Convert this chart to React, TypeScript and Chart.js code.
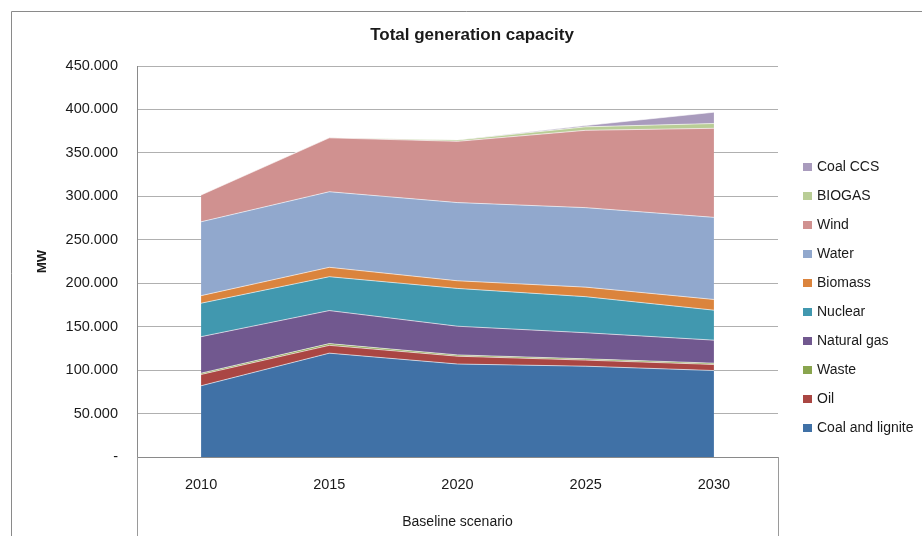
import React, { useEffect, useRef } from "react";
import { Chart, registerables } from "chart.js";

Chart.register(...registerables);

const categories = ["2010", "2015", "2020", "2025", "2030"];
const coalLignite = [82000, 119500, 107000, 104500, 99500];
const oil = [13000, 9000, 9000, 7000, 7000];
const waste = [1500, 2000, 1500, 1500, 1500];
const naturalGas = [42000, 38000, 33000, 30000, 26500];
const nuclear = [38500, 39000, 43500, 41500, 34500];
const biomass = [8700, 10800, 8800, 11000, 12300];
const water = [85000, 87000, 90000, 91500, 94500];
const wind = [30800, 62000, 70500, 89000, 102500];
const biogas = [0, 0, 1500, 4000, 5500];
const coalCCS = [0, 0, 0, 1500, 13000];

const seriesNames = ["Coal and lignite", "Oil", "Waste", "Natural gas", "Nuclear", "Biomass", "Water", "Wind", "BIOGAS", "Coal CCS"];
const seriesColors = ["#4071a6", "#aa4643", "#89a54e", "#71588f", "#4198af", "#db843d", "#91a8cd", "#d09190", "#b9cd96", "#a99bbd"];
const seriesValues = [coalLignite, oil, waste, naturalGas, nuclear, biomass, water, wind, biogas, coalCCS];

const chartTitle = "Total generation capacity";
const yAxisTitle = "MW";
const groupLabel = "Baseline scenario";

const FONT = "'Liberation Sans', Arial, sans-serif";

const decorPlugin = {
  id: "decor",
  beforeDraw(chart: any) {
    const ctx = chart.ctx;
    ctx.save();
    ctx.fillStyle = "#ffffff";
    ctx.fillRect(0, 0, chart.width, chart.height);
    ctx.restore();
  },
  afterDraw(chart: any) {
    const ctx = chart.ctx;
    const area = chart.chartArea;
    ctx.save();
    // outer frame
    ctx.strokeStyle = "#8a8a8a";
    ctx.lineWidth = 1;
    ctx.beginPath();
    ctx.moveTo(11.5, chart.height);
    ctx.lineTo(11.5, 11.5);
    ctx.lineTo(chart.width, 11.5);
    ctx.stroke();
    // multi-level category box lines
    ctx.strokeStyle = "#9a9a9a";
    ctx.beginPath();
    ctx.moveTo(Math.round(area.left) + 0.5, area.bottom);
    ctx.lineTo(Math.round(area.left) + 0.5, chart.height);
    ctx.moveTo(Math.round(area.right) + 0.5, area.bottom);
    ctx.lineTo(Math.round(area.right) + 0.5, chart.height);
    ctx.stroke();
    // title
    ctx.fillStyle = "#1a1a1a";
    ctx.font = "bold 17px " + FONT;
    ctx.textAlign = "center";
    ctx.textBaseline = "middle";
    ctx.fillText(chartTitle, 472, 35);
    // group label
    ctx.font = "14px " + FONT;
    ctx.fillText(groupLabel, (area.left + area.right) / 2, 522);
    // y axis title
    ctx.save();
    ctx.translate(42, (area.top + area.bottom) / 2);
    ctx.rotate(-Math.PI / 2);
    ctx.font = "bold 13px " + FONT;
    ctx.fillText(yAxisTitle, 0, 0);
    ctx.restore();
    // legend (reverse order)
    const ds = chart.data.datasets;
    ctx.font = "14px " + FONT;
    ctx.textAlign = "left";
    for (let i = 0; i < ds.length; i++) {
      const d = ds[ds.length - 1 - i];
      const cy = 167 + i * 29;
      ctx.fillStyle = d.backgroundColor;
      ctx.fillRect(803, cy - 4, 9, 8);
      ctx.fillStyle = "#1a1a1a";
      ctx.fillText(d.label, 817, cy + 0.5);
    }
    ctx.restore();
  },
};

export default function App() {
  const ref = useRef<HTMLCanvasElement>(null);
  useEffect(() => {
    if (!ref.current) return;
    const datasets = seriesValues.map((vals, i) => ({
      label: seriesNames[i],
      data: vals,
      backgroundColor: seriesColors[i],
      borderColor: "rgba(255,255,255,0.6)",
      borderWidth: 1,
      pointRadius: 0,
      pointHoverRadius: 0,
      tension: 0,
      fill: i === 0 ? "origin" : "-1",
    }));
    const chart = new Chart(ref.current, {
      type: "line",
      data: { labels: categories, datasets },
      plugins: [decorPlugin],
      options: {
        responsive: false,
        animation: false,
        devicePixelRatio: 1,
        layout: { padding: { left: 11, top: 66, right: 144, bottom: 0 } },
        plugins: {
          legend: { display: false },
          title: { display: false },
          tooltip: { enabled: false },
        },
        scales: {
          x: {
            offset: true,
            grid: { display: false, drawTicks: false },
            border: { display: true, color: "#8a8a8a", width: 1 },
            ticks: { padding: 19, color: "#1a1a1a", font: { family: FONT, size: 14.5 } },
            afterFit: (s: any) => { s.height = 79; },
          },
          y: {
            stacked: true,
            min: 0,
            max: 450000,
            grid: { color: "#b0b0b0", lineWidth: 1, drawTicks: false },
            border: { display: true, color: "#8a8a8a", width: 1 },
            ticks: {
              stepSize: 50000,
              padding: 19,
              color: "#1a1a1a",
              font: { family: FONT, size: 14.5 },
              callback: (v: any) => (v === 0 ? "-" : Number(v).toLocaleString("de-DE")),
            },
            afterFit: (s: any) => { s.width = 126; },
          },
        },
      },
    });
    return () => chart.destroy();
  }, []);
  return (
    <div style={{ position: "fixed", left: 0, top: 0, width: 922, height: 536 }}>
      <canvas ref={ref} width={922} height={536} />
    </div>
  );
}
